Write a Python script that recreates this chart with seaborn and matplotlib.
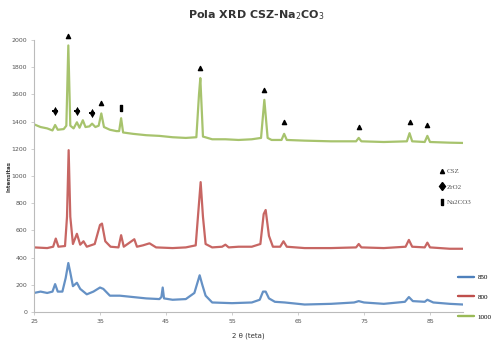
import matplotlib
matplotlib.use("Agg")
import matplotlib.pyplot as plt
from matplotlib.lines import Line2D
import seaborn as sns
import pandas as pd

# ---------------- data ----------------
x_850 = [25, 26, 27, 27.8, 28.2, 28.6, 29.3, 29.8, 30.2, 30.5, 30.9, 31.5, 32, 33, 34, 35, 35.5,
         36.5, 38, 40, 42, 44, 44.3, 44.5, 44.7, 46, 48, 49.3, 50.1, 50.5, 51, 52, 55, 58, 59.2,
         59.7, 60.1, 60.6, 61.5, 63, 66, 70, 73.5, 74.2, 75, 78, 81.2, 81.8, 82.4, 84.2, 84.6,
         85.5, 88, 90]
y_850 = [140, 150, 140, 150, 205, 150, 150, 250, 360, 290, 190, 215, 170, 130, 150, 180, 170,
         120, 120, 110, 100, 95, 110, 180, 100, 90, 95, 140, 270, 200, 120, 70, 65, 70, 90,
         150, 150, 100, 75, 70, 55, 60, 70, 80, 70, 60, 75, 110, 80, 75, 90,
         70, 60, 55]

x_800 = [25, 27, 27.9, 28.3, 28.7, 29.7, 30.0, 30.25, 30.5, 30.9, 31.5, 32.0, 32.5, 33.0, 34.2,
         35.0, 35.3, 35.8, 36.6, 37.8, 38.2, 38.6, 40.2, 40.6, 41.5, 42.5, 43.5, 46, 48, 49.5,
         50.0, 50.25, 50.6, 51, 52, 53.5, 54, 54.5, 56, 58, 59.3, 59.8, 60.1, 60.6, 61.2, 62.3,
         62.8, 63.3, 66, 70, 73.8, 74.2, 74.6, 78, 81.3, 81.8, 82.3, 84.2, 84.6, 85.0, 88, 90]
y_800 = [475, 470, 480, 540, 480, 485, 700, 1190, 700, 500, 575, 495, 520, 480, 500,
         640, 650, 520, 480, 475, 565, 480, 535, 480, 490, 505, 475, 470, 475, 490,
         800, 955, 700, 500, 475, 480, 495, 475, 480, 480, 500, 720, 750, 560, 480, 480,
         520, 480, 470, 470, 475, 500, 475, 470, 480, 530, 480, 475, 510, 475, 465, 465]

x_1000 = [25, 26, 27, 27.8, 28.2, 28.6, 29.5, 29.9, 30.2, 30.5, 31.0, 31.5, 31.9, 32.4, 32.8,
          33.4, 33.8, 34.3, 34.8, 35.2, 35.6, 36.5, 37.5, 37.9, 38.2, 38.5, 40, 42, 44, 46, 48,
          49.6, 50.0, 50.2, 50.6, 52, 54, 56, 58, 59.4, 59.9, 60.4, 61, 62.5, 62.9, 63.3, 66,
          70, 73.8, 74.2, 74.6, 78, 81.5, 81.9, 82.3, 84.2, 84.6, 85.0, 88, 90]
y_1000 = [1380, 1360, 1350, 1335, 1375, 1340, 1345, 1370, 1960, 1370, 1350, 1395, 1355, 1410, 1360,
          1365, 1385, 1360, 1370, 1460, 1360, 1340, 1330, 1330, 1425, 1320, 1310, 1300, 1295, 1285, 1280,
          1285, 1600, 1720, 1290, 1270, 1270, 1265, 1270, 1280, 1560, 1280, 1265, 1265, 1310, 1265, 1260,
          1255, 1255, 1280, 1255, 1250, 1255, 1315, 1255, 1250, 1295, 1250, 1245, 1243]

series_names = ["850", "800", "1000"]
series_colors = ["#4a7ebb", "#be4b48", "#98b954"]

# phase identification markers
csz_x = [30.2, 35.2, 50.2, 59.9, 62.9, 74.2, 82.0, 84.6]
csz_y = [2030, 1540, 1795, 1630, 1400, 1360, 1400, 1375]
zro2_x = [28.2, 31.5, 33.8]
zro2_y = [1480, 1480, 1460]
na2co3_x = [38.2]
na2co3_y = [1500]
phase_labels = ["CSZ", "ZrO2", "Na2CO3"]

x_ticks = [25, 35, 45, 55, 65, 75, 85]
y_ticks = list(range(0, 2001, 200))

# ---------------- build the table ----------------
frames = []
for name, xs, ys in zip(series_names, [x_850, x_800, x_1000], [y_850, y_800, y_1000]):
    frames.append(pd.DataFrame({"theta": xs, "intensity": ys, "suhu": name}))
df = pd.concat(frames, ignore_index=True)

sns.set_theme(style="white")
plt.rcParams["font.family"] = ["DejaVu Sans"]

fig = plt.figure(figsize=(4.98, 3.44), dpi=100)
ax = fig.add_axes([34 / 498, 32 / 344, (463 - 34) / 498, (312 - 40) / 344])

sns.lineplot(data=df, x="theta", y="intensity", hue="suhu", hue_order=series_names,
             palette=series_colors, linewidth=1.6, alpha=0.85, sort=False,
             estimator=None, ax=ax)

# markers
ax.scatter(csz_x, csz_y, marker="^", s=9, color="black", zorder=5, clip_on=False)
ax.scatter(zro2_x, zro2_y, marker="d", s=22, color="black", zorder=5, linewidths=0)
ax.scatter(zro2_x, zro2_y, marker="_", s=16, color="black", zorder=5, linewidths=1.4)
rect = [(-0.35, -1), (0.35, -1), (0.35, 1), (-0.35, 1), (-0.35, -1)]
ax.scatter(na2co3_x, na2co3_y, marker=rect, s=14, color="black", zorder=5)

ax.set_xlim(25, 90)
ax.set_ylim(0, 2000)
ax.set_xticks(x_ticks)
ax.set_xticklabels([str(t) for t in x_ticks])
ax.set_yticks(y_ticks)
ax.tick_params(axis="both", labelsize=4.5, length=2, width=0.5, color="#bbbbbb",
               colors="#555555", pad=3)
ax.tick_params(axis="both", which="both", direction="out")
ax.xaxis.set_ticks_position("bottom")
ax.yaxis.set_ticks_position("left")
for s in ["top", "right"]:
    ax.spines[s].set_visible(False)
for s in ["left", "bottom"]:
    ax.spines[s].set_color("#bbbbbb")
    ax.spines[s].set_linewidth(0.8)

ax.set_xlabel("2 θ (teta)", fontsize=5, color="#333333", labelpad=6)
ax.set_ylabel("Intensitas", fontsize=4, color="#333333", fontweight="bold")
ax.yaxis.set_label_coords(-0.052, 0.5)

fig.suptitle("Pola XRD CSZ-Na$_2$CO$_3$", x=0.515, y=0.975, fontsize=8,
             fontweight="bold", color="#333333")

# series legend
handles, labels = ax.get_legend_handles_labels()
leg1 = ax.legend(handles, labels, loc="upper left", bbox_to_anchor=(452 / 498, 1 - 268 / 344),
                 bbox_transform=fig.transFigure, frameon=False,
                 handlelength=2.2, labelspacing=2.0, handletextpad=0.6,
                 prop={"family": "Liberation Serif", "size": 5})
for t in leg1.get_texts():
    t.set_color("#555555")
ax.add_artist(leg1)

# phase legend
ph = [Line2D([], [], linestyle="none", marker="^", color="black", markersize=3),
      Line2D([], [], linestyle="none", marker="d", color="black", markersize=4.5),
      Line2D([], [], linestyle="none", marker=rect, color="black", markersize=4)]
leg2 = fig.legend(ph, phase_labels, loc="upper left", bbox_to_anchor=(433 / 498, 1 - 162 / 344),
                  frameon=False, handlelength=0.8, handletextpad=0.3, labelspacing=1.4,
                  prop={"family": "Liberation Serif", "size": 5})
for t in leg2.get_texts():
    t.set_color("#555555")

fig.savefig("out.png", dpi=100)
